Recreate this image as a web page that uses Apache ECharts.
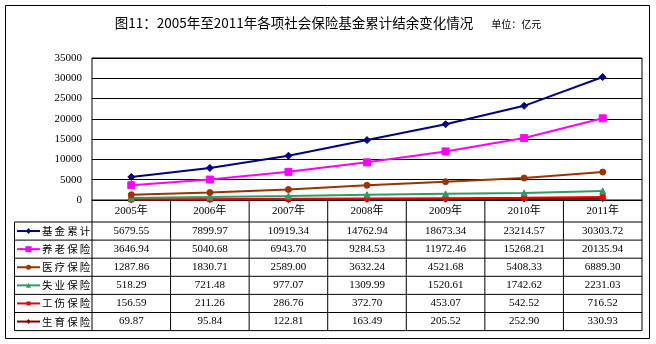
<!DOCTYPE html>
<html>
<head>
<meta charset="utf-8">
<script src="https://cdn.jsdelivr.net/npm/echarts@6/dist/echarts.min.js"></script>
<style>
  html, body { margin: 0; padding: 0; background: #fff; }
  #chart { width: 656px; height: 344px; }
</style>
</head>
<body>
<div id="chart"></div>
<script>
// Years shown on the category axis / table header
const years = ['2005年', '2006年', '2007年', '2008年', '2009年', '2010年', '2011年'];

// Accumulated balances, 亿元
const seriesNames = ['基金累计', '养老保险', '医疗保险', '失业保险', '工伤保险', '生育保险'];
const fundTotal = [5679.55, 7899.97, 10919.34, 14762.94, 18673.34, 23214.57, 30303.72];
const pension = [3646.94, 5040.68, 6943.70, 9284.53, 11972.46, 15268.21, 20135.94];
const medical = [1287.86, 1830.71, 2589.00, 3632.24, 4521.68, 5408.33, 6889.30];
const unemployment = [518.29, 721.48, 977.07, 1309.99, 1520.61, 1742.62, 2231.03];
const injury = [156.59, 211.26, 286.76, 372.70, 453.07, 542.52, 716.52];
const maternity = [69.87, 95.84, 122.81, 163.49, 205.52, 252.90, 330.93];

// Value axis ticks
const yTicks = [0, 5000, 10000, 15000, 20000, 25000, 30000, 35000];

const seriesData = [fundTotal, pension, medical, unemployment, injury, maternity];
const seriesColors = ['#000080', '#ff00ff', '#993300', '#339966', '#ee0000', '#800000'];
const seriesSymbols = ['diamond', 'rect', 'circle', 'triangle', 'rect', 'diamond'];
const seriesSymbolSizes = [7, 7, 6, 6, 5, 6];

const serifFont = '"Liberation Serif", "Times New Roman", "Noto Sans CJK SC", serif';
const cjkFont = '"Noto Sans CJK SC", "Liberation Serif", sans-serif';

const chart = echarts.init(document.getElementById('chart'), null, { renderer: 'canvas' });

const grid = { left: 92, right: 14, top: 58, bottom: 144 };

chart.setOption({
  animation: false,
  backgroundColor: '#ffffff',
  title: {
    left: 'center',
    top: 9,
    text: '{a|图11：2005年至2011年各项社会保险基金累计结余变化情况}  {b|单位：亿元}',
    textStyle: {
      rich: {
        a: { fontFamily: cjkFont, fontSize: 13.5, color: '#000', fontWeight: 'normal' },
        b: { fontFamily: cjkFont, fontSize: 10, color: '#000', fontWeight: 'normal', padding: [2, 0, 0, 8] }
      }
    }
  },
  grid: Object.assign({ show: true, borderColor: '#000', borderWidth: 1, backgroundColor: '#fff' }, grid),
  xAxis: {
    type: 'category',
    data: years,
    boundaryGap: true,
    axisLine: { show: true, lineStyle: { color: '#000', width: 1 } },
    axisTick: { show: false },
    axisLabel: {
      margin: 6,
      fontSize: 11,
      fontFamily: serifFont,
      color: '#000'
    },
    splitLine: { show: false }
  },
  yAxis: {
    type: 'value',
    min: yTicks[0],
    max: yTicks[yTicks.length - 1],
    interval: yTicks[1] - yTicks[0],
    axisLine: { show: false },
    axisTick: { show: false },
    axisLabel: {
      margin: 10,
      fontSize: 11,
      fontFamily: serifFont,
      color: '#000',
      formatter: (v) => String(v)
    },
    splitLine: { show: true, lineStyle: { color: '#000', width: 1 } }
  },
  series: seriesNames.map((name, i) => ({
    name: name,
    type: 'line',
    data: seriesData[i],
    symbol: seriesSymbols[i],
    symbolSize: seriesSymbolSizes[i],
    showSymbol: true,
    z: 10 - i,
    lineStyle: { color: seriesColors[i], width: 2 },
    itemStyle: { color: seriesColors[i], borderColor: seriesColors[i] }
  }))
});

// Data table under the plot: columns follow the category axis bands
function buildTable() {
  const c0 = chart.convertToPixel({ xAxisIndex: 0 }, 0);
  const c1 = chart.convertToPixel({ xAxisIndex: 0 }, 1);
  const band = c1 - c0;
  const plotLeft = c0 - band / 2;
  const plotRight = plotLeft + band * years.length;
  const headerTop = chart.convertToPixel({ yAxisIndex: 0 }, 0);
  const headerH = 22;
  const rowH = 18.1;
  const rowsTop = headerTop + headerH;
  const rowsBottom = rowsTop + rowH * seriesNames.length;
  const legendLeft = 14.5;

  const els = [];
  const line = (x1, y1, x2, y2) => els.push({
    type: 'line',
    shape: { x1, y1, x2, y2 },
    style: { stroke: '#000', lineWidth: 1 },
    silent: true
  });

  // outer frame of the whole figure
  els.push({
    type: 'rect',
    shape: { x: 5.5, y: 5.5, width: 644, height: 333 },
    style: { fill: null, stroke: '#000', lineWidth: 1 },
    silent: true
  });

  // horizontal rules
  line(plotLeft, rowsTop, plotRight, rowsTop);
  line(legendLeft, rowsTop, plotLeft, rowsTop);
  for (let r = 1; r <= seriesNames.length; r++) {
    const y = rowsTop + rowH * r;
    line(legendLeft, y, plotRight, y);
  }
  // vertical rules
  line(legendLeft, rowsTop, legendLeft, rowsBottom);
  for (let c = 0; c <= years.length; c++) {
    const x = plotLeft + band * c;
    line(x, headerTop, x, rowsBottom);
  }

  // rows: legend key + values
  seriesNames.forEach((name, r) => {
    const cy = rowsTop + rowH * r + rowH / 2;
    line(17, cy, 40, cy);
    els[els.length - 1].style = { stroke: seriesColors[r], lineWidth: 2 };
    const s = seriesSymbolSizes[r] - 1;
    if (seriesSymbols[r] === 'rect') {
      els.push({ type: 'rect', shape: { x: 28.5 - s / 2, y: cy - s / 2, width: s, height: s },
        style: { fill: seriesColors[r] }, silent: true });
    } else if (seriesSymbols[r] === 'circle') {
      els.push({ type: 'circle', shape: { cx: 28.5, cy: cy, r: s / 2 },
        style: { fill: seriesColors[r] }, silent: true });
    } else if (seriesSymbols[r] === 'triangle') {
      els.push({ type: 'polygon', shape: { points: [[28.5, cy - s / 2], [28.5 + s / 2, cy + s / 2], [28.5 - s / 2, cy + s / 2]] },
        style: { fill: seriesColors[r] }, silent: true });
    } else {
      els.push({ type: 'polygon', shape: { points: [[28.5, cy - s / 2], [28.5 + s / 2.4, cy], [28.5, cy + s / 2], [28.5 - s / 2.4, cy]] },
        style: { fill: seriesColors[r] }, silent: true });
    }
    els.push({
      type: 'text',
      x: 42, y: cy,
      style: {
        text: name.split('').join('\u2009'),
        fontFamily: cjkFont, fontSize: 10.5, fill: '#000',
        verticalAlign: 'middle', align: 'left'
      },
      silent: true
    });
    seriesData[r].forEach((v, c) => {
      els.push({
        type: 'text',
        x: plotLeft + band * c + band / 2, y: cy,
        style: {
          text: v.toFixed(2),
          fontFamily: serifFont, fontSize: 11, fill: '#000',
          verticalAlign: 'middle', align: 'center'
        },
        silent: true
      });
    });
  });

  chart.setOption({ graphic: { elements: els } });
}

buildTable();
</script>
</body>
</html>
